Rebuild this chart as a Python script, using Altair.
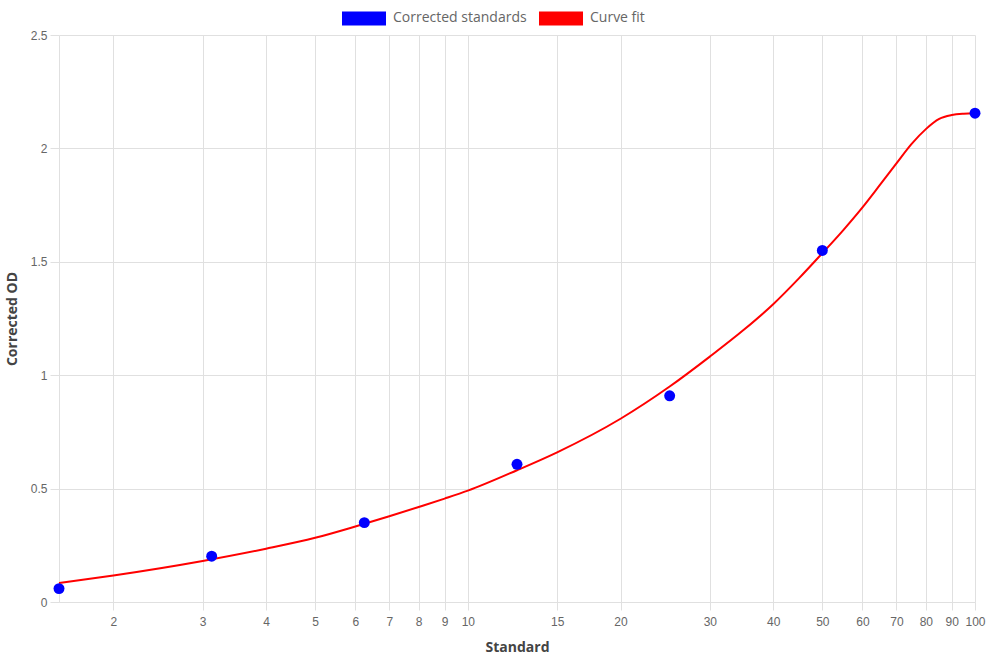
import altair as alt
import pandas as pd

# Corrected standards (points)
std_x = [1.5625, 3.125, 6.25, 12.5, 25, 50, 100]
std_od = [0.059, 0.202, 0.35, 0.607, 0.909, 1.55, 2.155]

# Curve fit
fit_x = [1.5625, 2, 3, 4, 5, 6, 7, 8, 9, 10, 12.5, 15, 20, 25, 30, 35, 40, 45,
         50, 55, 60, 65, 70, 75, 80, 85, 90, 95, 100]
fit_od = [0.084, 0.117, 0.181, 0.235, 0.283, 0.333, 0.378, 0.419, 0.456, 0.491,
          0.581, 0.66, 0.808, 0.95, 1.082, 1.2, 1.313, 1.428, 1.538, 1.64,
          1.74, 1.84, 1.934, 2.02, 2.085, 2.13, 2.147, 2.153, 2.155]

x_ticks = [2, 3, 4, 5, 6, 7, 8, 9, 10, 15, 20, 30, 40, 50, 60, 70, 80, 90, 100]
y_ticks = [0, 0.5, 1, 1.5, 2, 2.5]
series = ["Corrected standards", "Curve fit"]
colors = ["#0000ff", "#ff0000"]

pts = pd.DataFrame({"x": std_x, "y": std_od, "series": series[0]})
fit = pd.DataFrame({"x": fit_x, "y": fit_od})

GRID = "#e0e0e0"
LABEL_FONT = "Liberation Sans"
TITLE_FONT = "Open Sans"

xscale = alt.Scale(type="log", domain=[1.5625, 100], nice=False)
yscale = alt.Scale(domain=[0, 2.5], nice=False)

xaxis = alt.Axis(values=x_ticks, format="~g", title="Standard", grid=True,
                 gridColor=GRID, tickColor=GRID, tickSize=8, domainColor=GRID,
                 labelColor="#666666", labelFont=LABEL_FONT, labelFontSize=12,
                 labelPadding=6, labelFlush=False, labelOverlap=False,
                 titleFont=TITLE_FONT, titleFontSize=14, titleFontWeight="bold",
                 titleColor="#444444", titlePadding=13)
yaxis = alt.Axis(values=y_ticks, format="~g", title="Corrected OD", grid=True,
                 gridColor=GRID, tickColor=GRID, tickSize=9, domainColor=GRID,
                 labelColor="#666666", labelFont=LABEL_FONT, labelFontSize=12,
                 labelPadding=3, labelFlush=False,
                 titleFont=TITLE_FONT, titleFontSize=14, titleFontWeight="bold",
                 titleColor="#444444", titlePadding=11)

line = alt.Chart(fit).mark_line(color="#ff0000", strokeWidth=2,
                                interpolate="monotone").encode(
    x=alt.X("x:Q", scale=xscale, axis=xaxis),
    y=alt.Y("y:Q", scale=yscale, axis=yaxis),
)

points = alt.Chart(pts).mark_point(filled=True, size=120, opacity=1).encode(
    x=alt.X("x:Q", scale=xscale),
    y=alt.Y("y:Q", scale=yscale),
    color=alt.Color("series:N",
                    scale=alt.Scale(domain=series, range=colors),
                    legend=alt.Legend(
                        title=None, orient="none", direction="horizontal",
                        legendX=283, legendY=-39,
                        symbolType="M-1,-0.32L1,-0.32L1,0.32L-1,0.32Z",
                        symbolSize=1936, symbolStrokeWidth=0,
                        labelFont=TITLE_FONT, labelFontSize=14,
                        labelColor="#666666", columnPadding=12,
                        labelOffset=7)),
)

chart = alt.layer(line, points).properties(
    width=916, height=567,
    autosize=alt.AutoSizeParams(type="none"),
    padding={"left": 59, "top": 35, "right": 15, "bottom": 58},
    background="white",
).configure_view(stroke=None)

chart.save("out.html", embed_options={"renderer": "svg", "actions": False})
